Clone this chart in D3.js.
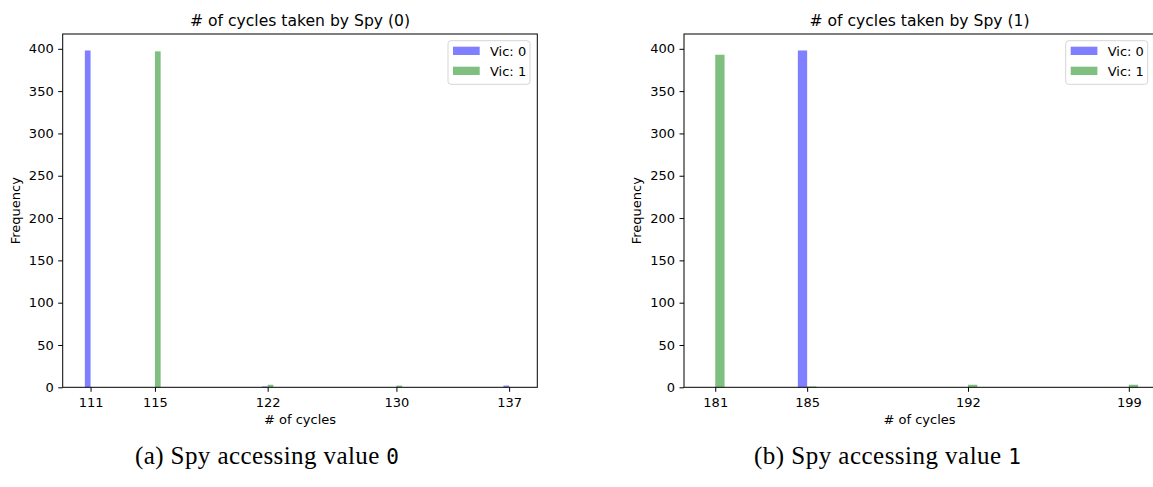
<!DOCTYPE html>
<html>
<head>
<meta charset="utf-8">
<script src="https://cdn.jsdelivr.net/npm/d3@7"></script>
<style>
  body { margin: 0; background: #fff; }
  svg { display: block; }
</style>
</head>
<body>
<svg id="chart" width="1153" height="487"></svg>
<script>
// Series + colours (matplotlib 'b' / 'g' at alpha 0.5)
const seriesNames = ["Vic: 0", "Vic: 1"]
const seriesColors = ["#7f7fff", "#7fbf7f"]

// Spy (0): cycle bins and counts per victim value
const spy0Cycles = [111, 115, 122, 130, 137]
const spy0Vic0 = [398, 0, 1, 0, 2]
const spy0Vic1 = [0, 397, 3, 2, 0]

// Spy (1)
const spy1Cycles = [181, 185, 192, 199]
const spy1Vic0 = [0, 398, 0, 0]
const spy1Vic1 = [393, 1, 3, 3]

const yTicks = [0, 50, 100, 150, 200, 250, 300, 350, 400]
const titles = ["# of cycles taken by Spy (0)", "# of cycles taken by Spy (1)"]
const captionText = ["(a) Spy accessing value ", "(b) Spy accessing value "]
const captionValue = ["0", "1"]

const FONT = "'DejaVu Sans', sans-serif"
const FS = 13
const AX_TOP = 34
const AX_BOTTOM = 387.3

const panels = [
  { cycles: spy0Cycles, series: [spy0Vic0, spy0Vic1], left: 62.7, right: 537.3,
    xDomain: [109.27, 138.75], binW: 0.354, capX: 135, capW: 264 },
  { cycles: spy1Cycles, series: [spy1Vic0, spy1Vic1], left: 684, right: 1155,
    xDomain: [179.64, 200.14], binW: 0.405, capX: 754, capW: 267 }
]

const svg = d3.select("#chart")

panels.forEach((p, pi) => {
  const x = d3.scaleLinear().domain(p.xDomain).range([p.left, p.right])
  const y = d3.scaleLinear().domain([0, 417.5]).range([AX_BOTTOM, AX_TOP])
  const g = svg.append("g")

  // Bars: victim 0 left of the tick, victim 1 right of it
  p.series.forEach((vals, si) => {
    g.append("g")
      .selectAll("rect")
      .data(p.cycles.map((c, i) => ({ c, v: vals[i] })).filter(d => d.v > 0))
      .enter()
      .append("rect")
      .attr("x", d => si === 0 ? x(d.c - p.binW) : x(d.c))
      .attr("width", d => x(d.c + p.binW) - x(d.c))
      .attr("y", d => y(d.v))
      .attr("height", d => y(0) - y(d.v))
      .attr("fill", seriesColors[si])
  })

  // Y axis
  const yAxis = g.append("g")
    .attr("transform", `translate(${p.left},0)`)
    .call(d3.axisLeft(y).tickValues(yTicks).tickSize(4.5).tickPadding(4.5))
  // X axis
  const xAxis = g.append("g")
    .attr("transform", `translate(0,${AX_BOTTOM})`)
    .call(d3.axisBottom(x).tickValues(p.cycles).tickFormat(d3.format("d")).tickSize(4.5).tickPadding(6))

  ;[yAxis, xAxis].forEach(a => {
    a.attr("font-family", FONT).attr("font-size", FS)
    a.select(".domain").remove()
    a.selectAll(".tick line").attr("stroke", "#000").attr("stroke-width", 1)
    a.selectAll(".tick text").attr("fill", "#000")
  })

  // Frame
  g.append("rect")
    .attr("x", p.left).attr("y", AX_TOP)
    .attr("width", p.right - p.left).attr("height", AX_BOTTOM - AX_TOP)
    .attr("fill", "none").attr("stroke", "#000").attr("stroke-width", 1)

  // Title and axis labels
  const cx = (p.left + p.right) / 2
  g.append("text")
    .attr("x", cx).attr("y", 26)
    .attr("text-anchor", "middle")
    .attr("font-family", FONT).attr("font-size", FS * 1.2)
    .text(titles[pi])

  g.append("text")
    .attr("x", cx).attr("y", 424)
    .attr("text-anchor", "middle")
    .attr("font-family", FONT).attr("font-size", FS)
    .text("# of cycles")

  g.append("text")
    .attr("transform", `translate(${p.left - 43.2},${(AX_TOP + AX_BOTTOM) / 2}) rotate(-90)`)
    .attr("text-anchor", "middle")
    .attr("font-family", FONT).attr("font-size", FS)
    .text("Frequency")

  // Legend
  const lgW = 82, lgH = 43.6
  const lx = p.right - 7.3 - lgW, ly = 40.7
  const lg = g.append("g").attr("transform", `translate(${lx},${ly})`)
  lg.append("rect")
    .attr("width", lgW).attr("height", lgH)
    .attr("rx", 3)
    .attr("fill", "#fff").attr("fill-opacity", 0.8)
    .attr("stroke", "#d6d6d6").attr("stroke-width", 1)
  seriesNames.forEach((name, si) => {
    lg.append("rect")
      .attr("x", 5).attr("y", 6 + si * 20)
      .attr("width", 26.7).attr("height", 8.3)
      .attr("fill", seriesColors[si])
    lg.append("text")
      .attr("x", 42).attr("y", 15.5 + si * 20)
      .attr("font-family", FONT).attr("font-size", FS)
      .text(name)
  })

  // Sub-figure caption
  const cap = svg.append("text")
    .attr("x", p.capX).attr("y", 464)
    .attr("font-family", "'Liberation Serif', 'DejaVu Serif', serif")
    .attr("font-size", 25)
    .attr("fill", "#000")
    .attr("textLength", p.capW)
    .attr("lengthAdjust", "spacing")
  cap.append("tspan").text(captionText[pi])
  cap.append("tspan")
    .attr("font-family", "'DejaVu Sans Mono', 'Liberation Mono', monospace")
    .attr("font-size", 21)
    .text(captionValue[pi])
})
</script>
</body>
</html>
